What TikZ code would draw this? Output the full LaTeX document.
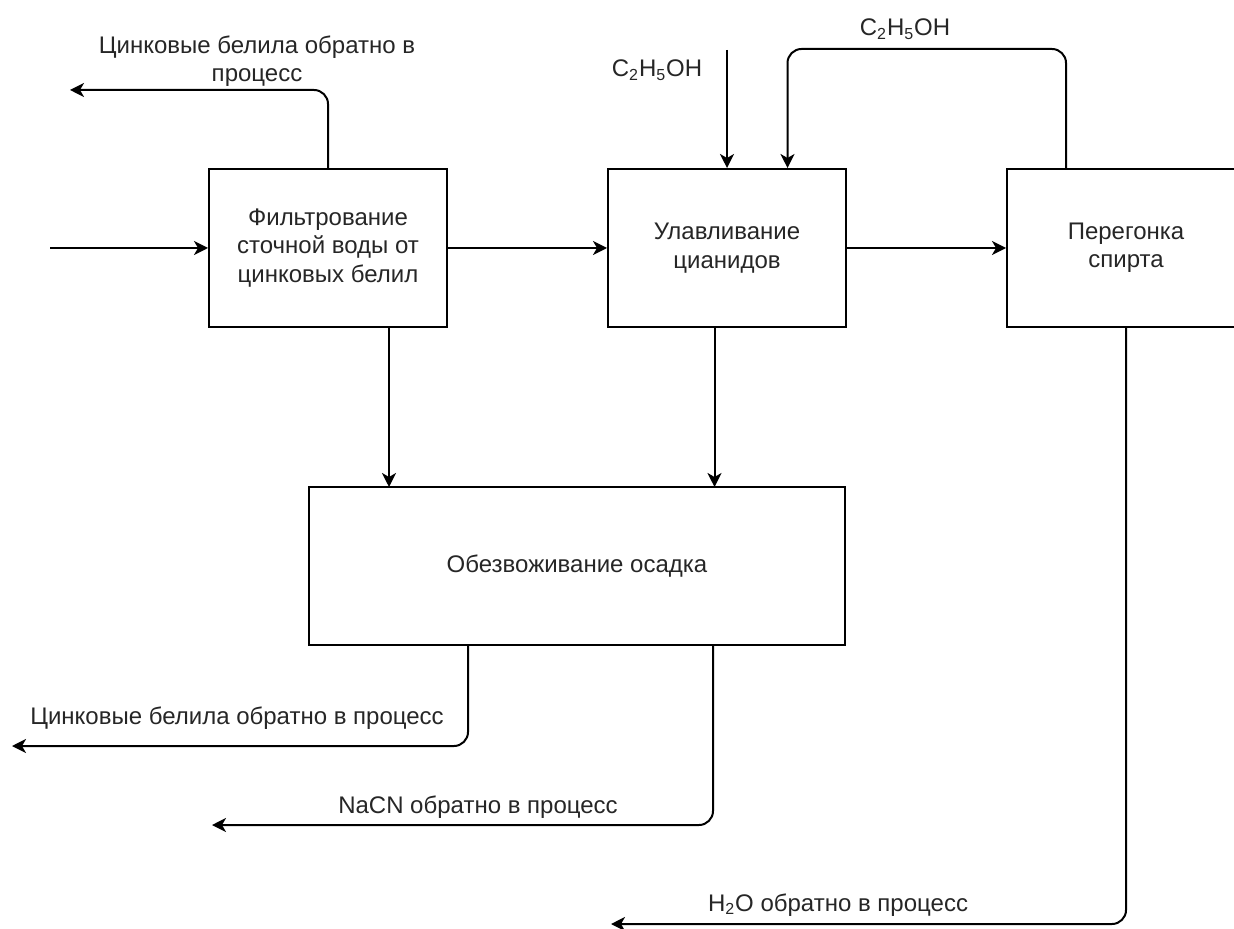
\documentclass[tikz,border=0pt]{standalone}
\usepackage{fontspec}
\setmainfont{Liberation Sans}
\usetikzlibrary{arrows.meta, positioning}

\begin{document}
\begin{tikzpicture}[
    x=0.5pt, y=-0.5pt,
    node distance=79.5pt and 79.5pt,
    every node/.style={font=\fontsize{12}{14.2}\selectfont, text=black!85},
    stage/.style={rectangle, draw=black, line width=1pt, minimum width=119pt, minimum height=79pt, align=center, inner sep=2pt},
    arrow/.style={-{Stealth[length=7pt, width=7pt, inset=2pt]}, line width=1pt},
    elbow/.style={arrow, rounded corners=7pt},
    note/.style={align=center, inner sep=1pt}
]
    \useasboundingbox (0,0) rectangle (1234,929);

    \node[stage] (filter) at (328,248) {Фильтрование\\сточной воды от\\цинковых белил};
    \node[stage, right=of filter] (trap) {Улавливание\\цианидов};
    \node[stage, right=of trap] (distil) {Перегонка\\спирта};
    \node[stage, minimum width=268pt] (dewater) at (577,566) {Обезвоживание осадка};

    % free ends of the streams
    \coordinate (feed) at (50,248);
    \coordinate (zincout) at (70,90);
    \coordinate (ethin) at (727,50);
    \coordinate (zincback) at (12,746);
    \coordinate (nacnout) at (212,825);
    \coordinate (waterout) at (611,924);

    \draw[arrow] (feed) -- (filter);
    \draw[arrow] (filter) -- (trap);
    \draw[arrow] (trap) -- (distil);
    \draw[elbow] (filter.north) |- (zincout);
    \draw[arrow] (ethin) -- (ethin |- trap.north);
    \draw[elbow] ([xshift=-30pt]distil.north) -- ++(0,-119) -| ([xshift=30.25pt]trap.north);
    \draw[arrow] ([xshift=30.5pt]filter.south) -- ++(0,159);
    \draw[arrow] ([xshift=-6.25pt]trap.south) -- ++(0,159);
    \draw[elbow] ([xshift=-54.5pt]dewater.south) |- (zincback);
    \draw[elbow] ([xshift=68pt]dewater.south) |- (nacnout);
    \draw[elbow] (distil.south) |- (waterout);

    % stream labels
    \node[note] (zinctop) at (257,61) {Цинковые белила обратно в\\процесс};
    \node[note] (ethfresh) at (657,70) {C\textsubscript{2}H\textsubscript{5}OH};
    \node[note] (ethback) at (905,29) {C\textsubscript{2}H\textsubscript{5}OH};
    \node[note] (zincbot) at (237,718) {Цинковые белила обратно в процесс};
    \node[note] (nacnlabel) at (478,807) {NaCN обратно в процесс};
    \node[note] (waterlabel) at (838,905) {H\textsubscript{2}O обратно в процесс};
\end{tikzpicture}
\end{document}
